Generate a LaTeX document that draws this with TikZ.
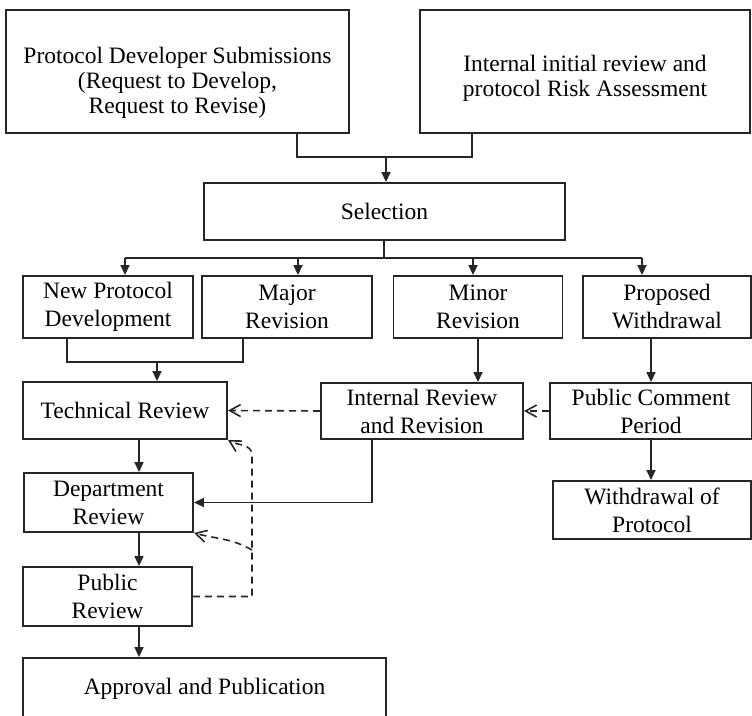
\documentclass[tikz,border=0pt]{standalone}
\usepackage{fontspec}
\setmainfont{Liberation Serif}
\usetikzlibrary{arrows.meta,positioning,calc}

\begin{document}
\begin{tikzpicture}[
    x=1pt, y=-1pt,
    every node/.style={font=\fontsize{23.5}{28}\selectfont},
    box/.style={draw=black!85, rectangle, line width=1.9pt, align=center, inner sep=0pt},
    txt/.style={align=center, inner sep=0pt, font=\fontsize{23.5}{25}\selectfont},
    link/.style={draw=black!85, line width=1.7pt},
    flow/.style={draw=black!85, -{Triangle[length=10pt,width=9pt]}, line width=1.7pt},
    back/.style={draw=black!85, -{Straight Barb[length=11pt,width=12pt]}, line width=1.6pt,
                 dash pattern=on 7pt off 5pt},
]
\useasboundingbox (0,0) rectangle (752,715);

%% Intake
\node[box, minimum width=343pt, minimum height=123pt] (sub) at (177.5,71.5) {};
\node[txt] (subtxt) at ([yshift=-11pt]sub.center)
    {Protocol Developer Submissions\\(Request to Develop,\\Request to Revise)};
\node[box, minimum width=330pt, minimum height=123pt] (irev) at (585,71.5) {};
\node[txt] (irevtxt) at ([yshift=-7pt]irev.center)
    {Internal initial review and\\protocol Risk Assessment};
\node[box, minimum width=361pt, minimum height=57pt] (sel) at (384.5,211.5) {Selection};

%% Tracks
\node[box, minimum width=170pt, minimum height=62pt] (newdev) at (108,307)   {New Protocol\\Development};
\node[box, minimum width=170pt, minimum height=62pt] (major)  at (287,307)   {Major\\Revision};
\node[box, minimum width=169pt, minimum height=62pt] (minor)  at (478,307)   {Minor\\Revision};
\node[box, minimum width=168pt, minimum height=62pt] (propw)  at (667,307)   {Proposed\\Withdrawal};

%% Reviews
\node[box, minimum width=204pt, minimum height=57pt] (tech)   at (125,410.5) {Technical Review};
\node[box, minimum width=202pt, minimum height=56pt] (intrev) at (422,411)   {Internal Review\\and Revision};
\node[box, minimum width=202pt, minimum height=56pt] (pubcom) at (651,411)   {Public Comment\\Period};
\node[box, minimum width=169pt, minimum height=59pt] (dept)   at (108.5,502.5) {Department\\Review};
\node[box, minimum width=198pt, minimum height=58pt] (withdr) at (652,510)   {Withdrawal of\\Protocol};
\node[box, minimum width=169pt, minimum height=59pt] (pubrev) at (107.5,596.5) {Public\\Review};
\node[box, minimum width=363pt, minimum height=62pt] (approv) at (204.5,689) {Approval and Publication};

%% Helper points
\coordinate (join)  at (386,157);
\coordinate (fork)  at (384,258);
\coordinate (mrg)   at (157,362);
\coordinate (spine) at (139,0);
\coordinate (railtop) at (252,455);
\coordinate (railmid) at (252,550);

%% Intake -> Selection
\draw[link] ([xshift=119.5pt]sub.south) |- (join) -| ([xshift=-113pt]irev.south);
\draw[flow] (join) -- (join |- sel.north);

%% Selection -> tracks
\draw[link] (sel.south -| fork) -- (fork);
\draw[link] (125,258) -- (642,258);
\foreach \fx/\tgt in {125/newdev, 298/major, 473/minor, 642/propw}
    \draw[flow] (\fx,258) -- (\fx,258 |- \tgt.north);

%% Tracks -> reviews
\draw[link] ([xshift=-41pt]newdev.south) |- (mrg) -| ([xshift=-44pt]major.south);
\draw[flow] (mrg) -- (mrg |- tech.north);
\draw[flow] (minor.south) -- (minor.south |- intrev.north);
\draw[flow] (propw.south -| pubcom.north) -- (pubcom.north);
\draw[flow] (pubcom.south) -- (pubcom.south |- withdr.north);

%% Main review chain
\draw[flow] (tech.south -| spine) -- (dept.north -| spine);
\draw[flow] (dept.south -| spine) -- (pubrev.north -| spine);
\draw[flow] (pubrev.south -| spine) -- (approv.north -| spine);
\draw[flow] ([xshift=-50pt]intrev.south) |- (dept.east);

%% Feedback (dashed)
\draw[back] (intrev.west) -- (tech.east);
\draw[back] (pubcom.west) -- (intrev.east);
\draw[back] (pubrev.east) -| (railtop) to[out=90, in=-30] (tech.south east);
\draw[back] (railmid) to[out=150, in=-15] (dept.south east);

\end{tikzpicture}
\end{document}
